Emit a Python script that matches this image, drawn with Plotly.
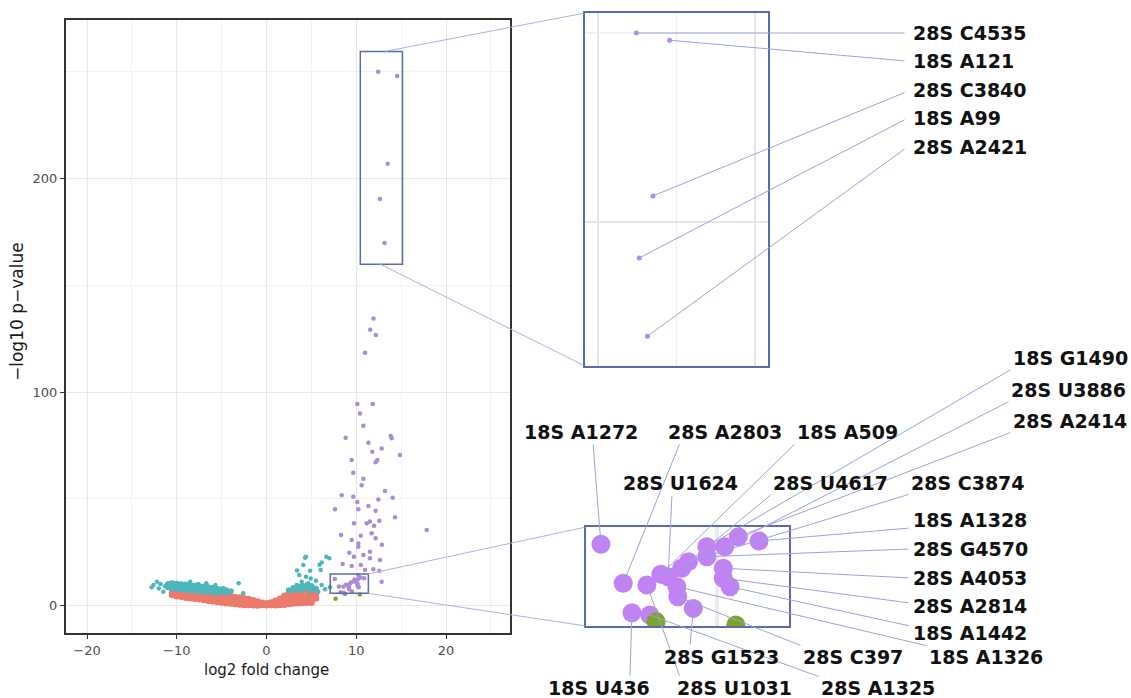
import plotly.graph_objects as go

W, H = 1131, 698

# ---------------- data ----------------
# non-significant points (red band), per column of log2 fold change
red_col_x = [-10.5, -10.0, -9.5, -9.0, -8.5, -8.0, -7.5, -7.0, -6.5, -6.0, -5.5, -5.0,
             -4.5, -4.0, -3.5, -3.0, -2.5, -2.0, -1.5, -1.0, -0.5, 0.0, 0.5, 1.0,
             1.5, 2.0, 2.5, 3.0, 3.5, 4.0, 4.5, 5.0, 5.5]
red_col_y = [[6.0, 5.0], [6.8, 5.5, 4.5], [6.6, 5.3, 4.2], [6.4, 5.0, 3.8], [6.2, 4.8, 3.5],
             [6.0, 4.6, 3.3], [5.7, 4.3, 3.0], [5.5, 4.0, 2.7], [5.2, 3.7, 2.4], [5.0, 3.4, 2.1],
             [4.8, 3.2, 1.8], [4.6, 3.0, 1.5], [4.3, 2.7, 1.2], [4.1, 2.5, 1.0], [3.9, 2.3, 0.8],
             [3.6, 2.1, 0.6], [3.3, 1.8, 0.4], [2.9, 1.5, 0.3], [2.4, 1.2, 0.2], [1.8, 0.8, 0.1],
             [1.2, 0.4], [0.9, 0.2], [1.3, 0.4], [2.1, 0.9, 0.2], [3.0, 1.6, 0.3],
             [4.5, 2.4, 0.5], [5.6, 3.1, 0.8], [6.4, 3.6, 1.0], [6.8, 3.9, 1.2], [7.0, 4.0, 1.3],
             [6.9, 4.0, 1.4], [6.5, 3.8, 1.4], [5.8, 3.4]]

# teal points: dense columns
teal_col_x = [-11.0, -10.5, -10.0, -9.5, -9.0, -8.5, -8.0, -7.5, -7.0, -6.5, -6.0, -5.5,
              -5.0, -4.5, -4.0, 2.5, 3.0, 3.5, 4.0, 4.5, 5.0, 5.5]
teal_col_y = [[9.8, 8.6], [10.4, 9.0, 7.8], [10.2, 8.8, 7.8], [10.0, 8.6, 7.6], [9.8, 8.3, 7.3],
              [9.6, 8.2, 7.1], [9.4, 8.0, 7.0], [9.1, 7.8, 6.8], [8.9, 7.6, 6.6], [8.6, 7.3, 6.4],
              [8.3, 7.0, 6.2], [7.9, 6.8, 6.0], [7.5, 6.3], [7.1, 6.0], [6.6],
              [7.2], [8.2, 7.4], [8.9, 7.9], [9.3, 8.2], [9.5, 8.3], [9.1, 8.0], [7.9]]
# teal points: scattered
teal_x = [-12.6, -12.2, -11.8, -12.8, -11.5, -10.9, -12.0, -11.3, -8.5, -7.6, -6.7, -5.7,
          -3.1, -4.8, -3.9, -2.6, 4.29, 6.15, 7.0, 4.1, 4.85, 6.04, 3.65, 4.4, 4.92, 3.92,
          4.66, 5.51, 3.36, 4.29, 5.21, 6.15, 6.52, 7.07, 2.99, 3.92, 4.77, 5.77, 4.4, 6.66,
          5.9, 3.4]
teal_y = [9.6, 11.1, 10.1, 8.5, 6.5, 10.4, 8.0, 9.0, 11.1, 10.1, 10.4, 9.6,
          10.4, 8.1, 6.9, 5.7, 22.4, 20.2, 22.1, 19.0, 16.3, 16.6, 14.3, 13.5, 12.7, 11.1,
          10.4, 11.6, 9.6, 8.8, 8.5, 9.6, 7.6, 8.5, 7.3, 6.9, 6.5, 6.5, 22.9, 22.9,
          19.1, 16.4]

# green points
green_x = [7.7, 8.75, 10.4]
green_y = [3.2, 5.4, 5.1]

# purple (significant) points not labelled
purple_x = [11.92, 11.55, 12.18, 10.98, 10.12, 11.83, 10.42, 10.79, 13.84, 13.95, 8.82, 11.35,
            11.79, 12.83, 14.87, 9.49, 12.35, 12.16, 9.67, 10.79, 10.61, 13.2, 8.38, 9.67,
            10.12, 12.46, 14.06, 7.63, 10.23, 11.35, 12.16, 14.32, 9.75, 11.16, 11.53, 11.98,
            12.57, 17.85, 8.3, 9.49, 10.5, 11.72, 12.16, 10.23, 10.23, 9.23, 9.75, 10.79,
            11.53, 11.53, 12.65, 8.49, 9.49, 10.5, 10.98, 11.9, 12.57, 12.83, 10.23, 12.86]
purple_y = [134.4, 129.2, 126.7, 118.4, 94.4, 94.4, 90.0, 84.2, 79.4, 78.3, 78.6, 76.3,
            72.0, 73.6, 70.5, 68.2, 68.2, 67.1, 62.2, 59.4, 56.3, 53.6, 51.6, 51.0,
            48.5, 49.7, 50.5, 45.1, 45.1, 46.6, 44.4, 41.3, 38.5, 38.5, 39.3, 37.4,
            39.7, 35.4, 33.0, 30.7, 32.7, 33.8, 31.5, 29.1, 27.5, 24.7, 22.9, 23.7,
            25.2, 22.1, 21.3, 19.4, 18.5, 19.0, 16.6, 17.0, 16.3, 11.1, 14.3, 28.5]

# labelled points of the upper zoom
inset1_labels = ["28S C4535", "18S A121", "28S C3840", "18S A99", "28S A2421"]
inset1_x = [12.44, 14.56, 13.5, 12.63, 13.15]
inset1_y = [250.0, 248.1, 206.9, 190.5, 169.8]

# labelled points of the lower zoom
inset2_labels = ["18S A1272", "28S A2803", "18S A509", "28S U1624", "28S U4617", "28S C3874",
                 "18S G1490", "28S U3886", "28S A2414", "18S A1328", "28S G4570", "28S A4053",
                 "28S A2814", "18S A1442", "28S G1523", "28S C397", "18S A1326", "18S U436",
                 "28S U1031", "28S A1325"]
inset2_x = [7.61, 8.07, 8.85, 9.00, 9.28, 9.42, 9.80, 10.17, 10.45, 10.88, 9.80, 10.14,
            10.14, 10.28, 9.52, 9.20, 9.18, 8.25, 8.56, 8.62]
inset2_y = [12.43, 8.88, 9.70, 9.48, 10.25, 10.85, 12.2, 12.2, 13.12, 12.73, 11.3, 10.25,
            9.34, 8.57, 6.6, 7.66, 8.57, 6.21, 8.73, 6.0]

# ---------------- layout positions (pixels) ----------------
MAIN_PX = (66, 510, 20, 633)      # left, right, top, bottom
INS1_PX = (585, 768, 13, 366)
INS2_PX = (586, 789, 527, 626)
MAIN_XR, MAIN_YR = [-22.34, 27.13], [-12.88, 274.3]
INS1_XR, INS1_YR = [9.17, 20.83], [161.9, 255.3]
INS2_XR, INS2_YR = [7.3, 11.5], [5.0, 14.0]

# zoom boxes drawn in the main panel (data units of the main panel)
BOX1 = (10.45, 15.15, 159.9, 259.6)
BOX2 = (7.1, 11.35, 5.7, 14.8)

# label text positions (left edge x, centre y) in pixels
inset1_label_pos = [(912, 33), (912, 61), (912, 90), (912, 118), (912, 147)]
inset1_anchor = [(906, 33), (906, 61), (906, 92), (906, 119), (906, 148)]
inset2_label_pos = [(523, 432), (667, 432), (796, 432), (622, 483), (772, 483), (910, 483),
                    (1012, 358), (1010, 390), (1012, 421), (912, 520), (912, 549), (912, 578),
                    (912, 606), (912, 633), (663, 657), (802, 657), (928, 657), (547, 688),
                    (676, 688), (820, 688)]
inset2_anchor = [(593, 443), (680, 443), (796, 443), (672, 494), (772, 494), (910, 494),
                 (1012, 369), (1010, 401), (1012, 432), (910, 528), (910, 549), (910, 578),
                 (910, 603), (910, 626), (690, 646), (802, 646), (928, 646), (630, 677),
                 (680, 677), (820, 677)]

# ---------------- colours / fonts ----------------
RED, TEAL, GREEN = "#EC7A6A", "#4DB6BC", "#7BA428"
PURPLE_MAIN, PURPLE_IN = "#A98BD6", "#C183F4"
FRAME_BLUE, LINE_BLUE, LEAD_BLUE = "#5C6BA8", "#A9B2E3", "#98A3DA"
FONT = "DejaVu Sans"


def dom(px):
    l, r, t, b = px
    return [l / W, r / W], [1 - b / H, 1 - t / H]


def to_axis(px, py, box, xr, yr):
    """Convert a layout pixel position into the data units of an axis pair."""
    l, r, t, b = box
    x = xr[0] + (px - l) / (r - l) * (xr[1] - xr[0])
    y = yr[1] - (py - t) / (b - t) * (yr[1] - yr[0])
    return x, y


def flatten(cx, cy):
    xs, ys = [], []
    for x, col in zip(cx, cy):
        for y in col:
            xs.append(x)
            ys.append(y)
    return xs, ys


red_x, red_y = flatten(red_col_x, red_col_y)
tdx, tdy = flatten(teal_col_x, teal_col_y)

fig = go.Figure()

# main panel
fig.add_trace(go.Scatter(x=red_x, y=red_y, mode="markers",
                         marker=dict(color=RED, size=7), xaxis="x", yaxis="y"))
fig.add_trace(go.Scatter(x=tdx, y=tdy, mode="markers",
                         marker=dict(color=TEAL, size=6), xaxis="x", yaxis="y"))
fig.add_trace(go.Scatter(x=teal_x, y=teal_y, mode="markers",
                         marker=dict(color=TEAL, size=4.5), xaxis="x", yaxis="y"))
fig.add_trace(go.Scatter(x=green_x, y=green_y, mode="markers",
                         marker=dict(color=GREEN, size=4.5), xaxis="x", yaxis="y"))
fig.add_trace(go.Scatter(x=purple_x + inset1_x + inset2_x, y=purple_y + inset1_y + inset2_y,
                         mode="markers", marker=dict(color=PURPLE_MAIN, size=4.5),
                         xaxis="x", yaxis="y"))

# inset 1
fig.add_trace(go.Scatter(x=inset1_x, y=inset1_y, mode="markers",
                         marker=dict(color="#B488EE", size=5), xaxis="x2", yaxis="y2"))
# inset 2
fig.add_trace(go.Scatter(x=inset2_x, y=inset2_y, mode="markers",
                         marker=dict(color=PURPLE_IN, size=19), xaxis="x3", yaxis="y3"))
fig.add_trace(go.Scatter(x=green_x, y=green_y, mode="markers",
                         marker=dict(color=GREEN, size=19), xaxis="x3", yaxis="y3"))

mx, my = dom(MAIN_PX)
i1x, i1y = dom(INS1_PX)
i2x, i2y = dom(INS2_PX)

tickfont = dict(family=FONT, size=13, color="#4D4D4D")
common_main = dict(showline=True, mirror=True, linecolor="#333333", linewidth=2,
                   ticks="outside", ticklen=4, tickcolor="#333333", tickwidth=1,
                   zeroline=False, showgrid=True, gridcolor="#E8E8E8", gridwidth=1,
                   tickfont=tickfont)

fig.update_layout(
    width=W, height=H, margin=dict(l=0, r=0, t=0, b=0), autosize=False,
    paper_bgcolor="white", plot_bgcolor="white", showlegend=False, hovermode=False,
    xaxis=dict(domain=mx, range=MAIN_XR, dtick=10, tick0=0,
               minor=dict(dtick=5, tick0=0, showgrid=True, gridcolor="#F2F2F2", gridwidth=1),
               **common_main),
    yaxis=dict(domain=my, range=MAIN_YR, dtick=100, tick0=0,
               minor=dict(dtick=50, tick0=0, showgrid=True, gridcolor="#F2F2F2", gridwidth=1),
               **common_main),
    xaxis2=dict(domain=i1x, range=INS1_XR, anchor="y2", dtick=10, tick0=0,
                showgrid=True, gridcolor="#E6E6E6", gridwidth=2,
                minor=dict(dtick=5, tick0=0, showgrid=True, gridcolor="#EEEEEE", gridwidth=1.5),
                showticklabels=False, ticks="", zeroline=False,
                showline=True, mirror=True, linecolor=FRAME_BLUE, linewidth=1.8),
    yaxis2=dict(domain=i1y, range=INS1_YR, anchor="x2", dtick=100, tick0=0,
                showgrid=True, gridcolor="#E6E6E6", gridwidth=2,
                minor=dict(dtick=50, tick0=0, showgrid=True, gridcolor="#F0F0F0", gridwidth=1.5),
                showticklabels=False, ticks="", zeroline=False,
                showline=True, mirror=True, linecolor=FRAME_BLUE, linewidth=1.8),
    xaxis3=dict(domain=i2x, range=INS2_XR, anchor="y3", dtick=10, tick0=0,
                showgrid=True, gridcolor="#EBEBEB", gridwidth=4,
                showticklabels=False, ticks="", zeroline=False,
                showline=True, mirror=True, linecolor=FRAME_BLUE, linewidth=1.8),
    yaxis3=dict(domain=i2y, range=INS2_YR, anchor="x3", dtick=100, tick0=0,
                showgrid=False, showticklabels=False, ticks="", zeroline=False,
                showline=True, mirror=True, linecolor=FRAME_BLUE, linewidth=1.8),
)

# zoom boxes in main panel
for (x0, x1, y0, y1) in (BOX1, BOX2):
    fig.add_shape(type="rect", xref="x", yref="y", x0=x0, x1=x1, y0=y0, y1=y1,
                  line=dict(color=FRAME_BLUE, width=1.5), fillcolor="rgba(0,0,0,0)")

annotations = []


def leader(axid, hx, hy, tail_px, box, xr, yr, color, width=1.0):
    tx, ty = to_axis(tail_px[0], tail_px[1], box, xr, yr)
    return dict(xref="x" + axid, yref="y" + axid, axref="x" + axid, ayref="y" + axid,
                x=hx, y=hy, ax=tx, ay=ty, text="", showarrow=True, arrowhead=0,
                arrowwidth=width, arrowcolor=color, standoff=0, startstandoff=0)


# connectors from main boxes to the insets
annotations.append(leader("", 13.2, BOX1[3], (INS1_PX[0], INS1_PX[2]), MAIN_PX, MAIN_XR, MAIN_YR, LINE_BLUE))
annotations.append(leader("", 12.65, BOX1[2], (INS1_PX[0], INS1_PX[3]), MAIN_PX, MAIN_XR, MAIN_YR, LINE_BLUE))
annotations.append(leader("", BOX2[1], BOX2[3], (INS2_PX[0], INS2_PX[2]), MAIN_PX, MAIN_XR, MAIN_YR, LINE_BLUE))
annotations.append(leader("", BOX2[1], BOX2[2], (INS2_PX[0], INS2_PX[3]), MAIN_PX, MAIN_XR, MAIN_YR, LINE_BLUE))

# leader lines for labels
for x, y, a in zip(inset1_x, inset1_y, inset1_anchor):
    annotations.append(leader("2", x, y, a, INS1_PX, INS1_XR, INS1_YR, LEAD_BLUE))
for x, y, a in zip(inset2_x, inset2_y, inset2_anchor):
    annotations.append(leader("3", x, y, a, INS2_PX, INS2_XR, INS2_YR, LEAD_BLUE))

# label texts
for lab, (px, py) in list(zip(inset1_labels, inset1_label_pos)) + list(zip(inset2_labels, inset2_label_pos)):
    annotations.append(dict(xref="paper", yref="paper", x=px / W, y=1 - py / H,
                            xanchor="left", yanchor="middle", showarrow=False,
                            text="<b>" + lab + "</b>", borderpad=0,
                            font=dict(family=FONT, size=19, color="#111111")))

# axis titles
annotations.append(dict(xref="paper", yref="paper", x=266.5 / W, y=1 - 670 / H,
                        xanchor="center", yanchor="middle", showarrow=False,
                        text="log2 fold change", font=dict(family=FONT, size=15, color="#1A1A1A")))
annotations.append(dict(xref="paper", yref="paper", x=17 / W, y=1 - 312 / H,
                        xanchor="center", yanchor="middle", showarrow=False, textangle=-90,
                        text="\u2212log10 p\u2212value", font=dict(family=FONT, size=17, color="#1A1A1A")))

fig.update_layout(annotations=annotations)

fig.write_html("out.html", config={"displayModeBar": False, "staticPlot": True},
               post_script="document.body.style.margin='0px';document.body.style.padding='0px';"
                           "document.body.style.overflow='hidden';")
